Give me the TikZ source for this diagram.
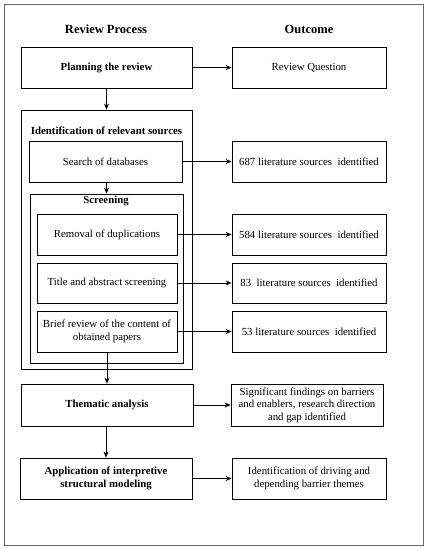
\documentclass[tikz,border=0pt]{standalone}
\usepackage{fontspec}
\setmainfont{Liberation Serif}
\usetikzlibrary{arrows.meta}
\begin{document}
\begin{tikzpicture}[x=1pt,y=-1pt,
  every node/.style={font=\fontsize{10.8}{12.6}\selectfont, align=center, inner sep=0pt},
  box/.style={draw=black, line width=0.8pt, rectangle},
  grp/.style={draw=black, line width=0.8pt, rectangle},
  head/.style={font=\fontsize{12.5}{14}\selectfont\bfseries},
  bld/.style={font=\fontsize{10.8}{12.6}\selectfont\bfseries},
  arr/.style={draw=black, line width=0.7pt, -{Stealth[length=6pt,width=5pt]}}
]
\useasboundingbox (0,0) rectangle (427,550);
\node[draw=black!60, line width=0.8pt, minimum width=419pt, minimum height=541pt] (frame) at (213.5,274.5) {};

\node[head] (hproc) at (106,29) {Review Process};
\node[head] (hout) at (309,29) {Outcome};

% left column
\node[box, bld, minimum width=171pt, minimum height=41pt] (plan) at (106.5,67.5) {Planning the review};
\node[grp, minimum width=171pt, minimum height=259pt] (ident) at (106.5,239.5) {};
\node[bld] (identl) at (106.5,130.5) {Identification of relevant sources};
\node[box, minimum width=153pt, minimum height=41pt] (search) at (105.5,161.5) {Search of databases};
\node[grp, minimum width=153pt, minimum height=169pt] (screen) at (106.5,278.5) {};
\node[bld] (screenl) at (106,201) {Screening};
\node[box, minimum width=140pt, minimum height=41pt] (remov) at (107,234.5) {Removal of duplications};
\node[box, minimum width=140pt, minimum height=40pt] (title) at (107,283) {Title and abstract screening};
\node[box, minimum width=140pt, minimum height=41pt] (brief) at (107,331.5) {Brief review of the content of\\obtained papers};
\node[box, bld, minimum width=172pt, minimum height=42pt] (them) at (107,405) {Thematic analysis};
\node[box, bld, minimum width=172pt, minimum height=41pt] (appl) at (106,478.5) {Application of interpretive\\structural modeling};

% right column
\node[box, minimum width=154pt, minimum height=41pt] (rq) at (309,67.5) {Review Question};
\node[box, minimum width=154pt, minimum height=41pt] (o687) at (309,161.5) {687 literature sources\ \ identified};
\node[box, minimum width=154pt, minimum height=41pt] (o584) at (309,234.5) {584 literature sources\ \ identified};
\node[box, minimum width=154pt, minimum height=40pt] (o83) at (309,283) {83\ \ literature sources\ \ identified};
\node[box, minimum width=154pt, minimum height=41pt] (o53) at (309,331.5) {53 literature sources\ \ identified};
\node[box, minimum width=152pt, minimum height=42pt] (osig) at (307,405) {Significant findings on barriers\\and enablers, research direction\\and gap identified};
\node[box, minimum width=154pt, minimum height=41pt] (odrv) at (309,478.5) {Identification of driving and\\depending barrier themes};

% arrows
\draw[arr] (plan) -- (rq);
\draw[arr] (search) -- (o687);
\draw[arr] (remov) -- (o584);
\draw[arr] (title) -- (o83);
\draw[arr] (brief) -- (o53);
\draw[arr] (them) -- (osig);
\draw[arr] (appl) -- (odrv);
\draw[arr] (plan.south -| ident.north) -- (ident.north);
\draw[arr] (search.south -| screen.north) -- (screen.north);
\draw[arr] (brief.south) -- (brief.south |- them.north);
\draw[arr] (them.south -| appl.north) -- (appl.north);
\end{tikzpicture}
\end{document}
